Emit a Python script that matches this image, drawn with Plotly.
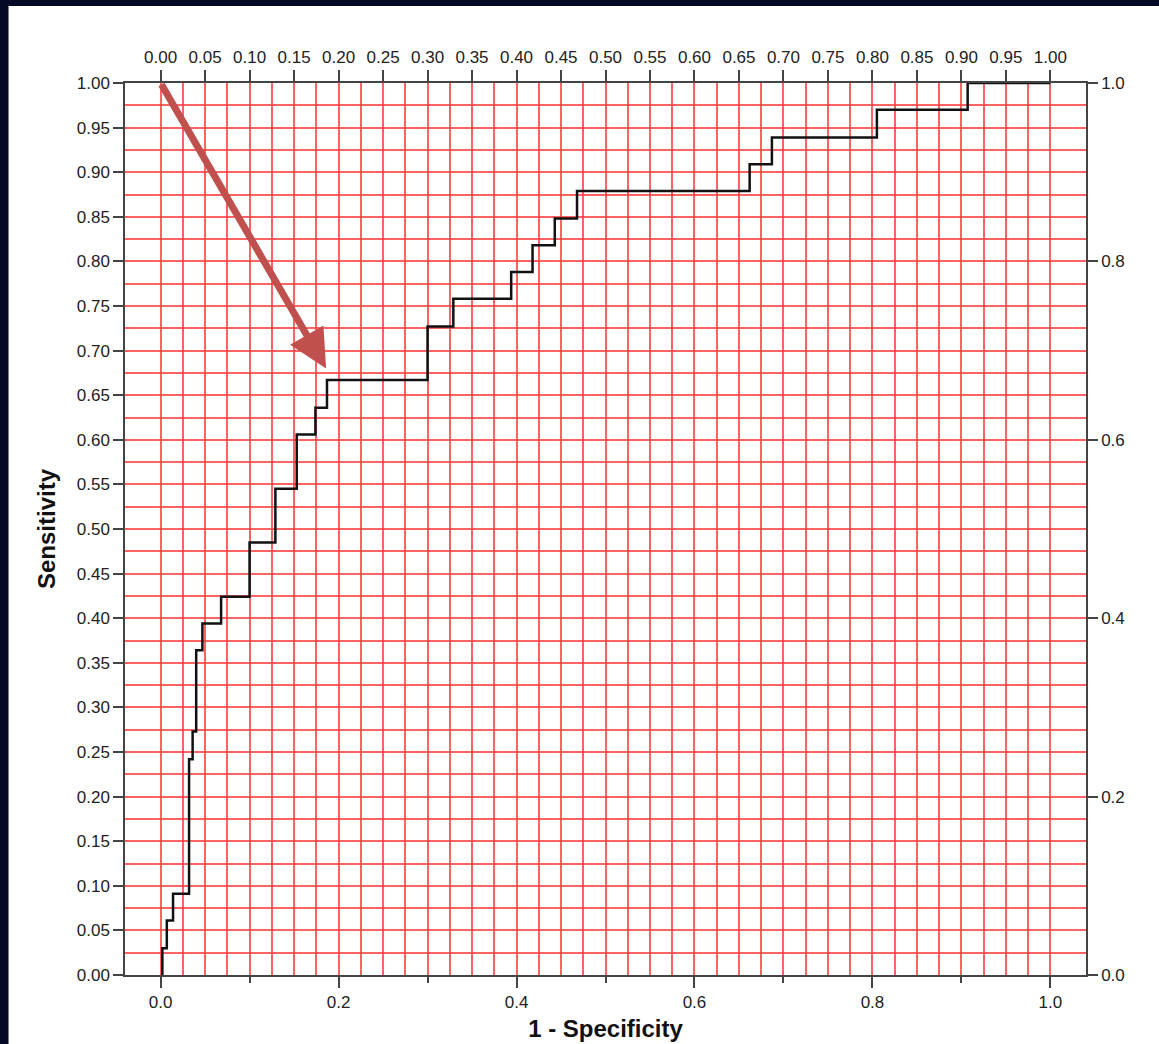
import plotly.graph_objects as go

# ROC staircase corner points (1 - specificity, sensitivity)
fpr = [0.002, 0.007, 0.014, 0.032, 0.036, 0.040, 0.047, 0.068, 0.100, 0.129,
       0.153, 0.174, 0.187, 0.300, 0.329, 0.394, 0.418, 0.443, 0.468, 0.662,
       0.687, 0.805, 0.907, 1.000]
tpr = [0.000, 0.030, 0.061, 0.091, 0.242, 0.273, 0.364, 0.394, 0.424, 0.485,
       0.545, 0.606, 0.636, 0.667, 0.727, 0.758, 0.788, 0.818, 0.848, 0.879,
       0.909, 0.939, 0.970, 1.000]

# tick definitions
fine_ticks = [round(i * 0.05, 2) for i in range(21)]
fine_labels = [f"{v:.2f}" for v in fine_ticks]
fine_minor = [round(0.025 + i * 0.05, 3) for i in range(20)]
coarse_ticks = [0.0, 0.2, 0.4, 0.6, 0.8, 1.0]
coarse_labels = [f"{v:.1f}" for v in coarse_ticks]
coarse_minor = [0.1, 0.3, 0.5, 0.7, 0.9]

# arrow (tail -> tip) in data units
arrow_tail = (0.0, 1.0)
arrow_tip = (0.186, 0.680)

GRID = "rgba(255,60,60,0.8)"
AXC = "#444444"
FONT = "Liberation Sans, Arial, sans-serif"
tickfont = dict(family=FONT, size=17, color="#222222")
DARK = "#020a26"

fig = go.Figure()
fig.add_trace(go.Scatter(x=fpr, y=tpr, mode="lines", line_shape="vh",
                         line=dict(color="#111111", width=2.5),
                         showlegend=False, hoverinfo="skip"))
fig.add_trace(go.Scatter(x=fpr, y=tpr, mode="lines", xaxis="x2", yaxis="y2",
                         line=dict(width=0, color="rgba(0,0,0,0)"),
                         showlegend=False, hoverinfo="skip"))

xr = [-0.04, 1.04]
fig.update_layout(
    width=1159, height=1044,
    paper_bgcolor=DARK, plot_bgcolor="white",
    margin=dict(l=125, r=73, t=83, b=69, autoexpand=False),
    xaxis=dict(range=xr, tickmode="array", tickvals=coarse_ticks, ticktext=coarse_labels,
               ticks="outside", ticklen=11, tickwidth=1.5, tickcolor=AXC,
               showline=True, linecolor=AXC, linewidth=1.5, showgrid=False, zeroline=False,
               tickfont=tickfont, automargin=False,
               minor=dict(tickmode="array", tickvals=coarse_minor, ticks="outside",
                          ticklen=6, tickwidth=1.5, tickcolor=AXC, showgrid=False),
               title=dict(text="<b>1 - Specificity</b>", standoff=9,
                          font=dict(family=FONT, size=24, color="#111111"))),
    xaxis2=dict(range=xr, overlaying="x", side="top", tickmode="array",
                tickvals=fine_ticks, ticktext=fine_labels, automargin=False,
                ticks="outside", ticklen=11, tickwidth=1.5, tickcolor=AXC,
                showline=True, linecolor=AXC, linewidth=1.5, zeroline=False,
                showgrid=True, gridcolor=GRID, gridwidth=1.5, tickfont=tickfont,
                minor=dict(tickmode="array", tickvals=fine_minor, ticks="",
                           showgrid=True, gridcolor=GRID, gridwidth=1.5)),
    yaxis=dict(range=[0, 1], tickmode="array", tickvals=fine_ticks, ticktext=fine_labels,
               ticks="outside", ticklen=10, tickwidth=1.5, tickcolor=AXC,
               showline=True, linecolor=AXC, linewidth=1.5, zeroline=False,
               showgrid=True, gridcolor=GRID, gridwidth=1.5, tickfont=tickfont,
               automargin=False,
               minor=dict(tickmode="array", tickvals=fine_minor, ticks="",
                          showgrid=True, gridcolor=GRID, gridwidth=1.5),
               title=dict(text="<b>Sensitivity</b>", standoff=14,
                          font=dict(family=FONT, size=24, color="#111111"))),
    yaxis2=dict(range=[0, 1], overlaying="y", side="right", tickmode="array",
                tickvals=coarse_ticks, ticktext=coarse_labels, automargin=False,
                ticks="outside", ticklen=10, tickwidth=1.5, tickcolor=AXC,
                showline=True, linecolor=AXC, linewidth=1.5, zeroline=False,
                showgrid=False, tickfont=tickfont),
    shapes=[dict(type="rect", xref="paper", yref="paper", x0=-0.1212, x1=1.2,
                 y0=-0.2, y1=1.0863, fillcolor="white", line=dict(width=0),
                 layer="below")],
    annotations=[dict(x=arrow_tip[0], y=arrow_tip[1], ax=arrow_tail[0], ay=arrow_tail[1],
                      xref="x", yref="y", axref="x", ayref="y", text="",
                      showarrow=True, arrowhead=2, arrowsize=1.1, arrowwidth=7,
                      arrowcolor="#C0504D", standoff=0)],
)

fig.write_html(
    "out.html",
    config={"displayModeBar": False},
    post_script="document.body.style.margin='0';document.body.style.background='%s';"
                "document.body.style.overflow='hidden';" % DARK,
)
